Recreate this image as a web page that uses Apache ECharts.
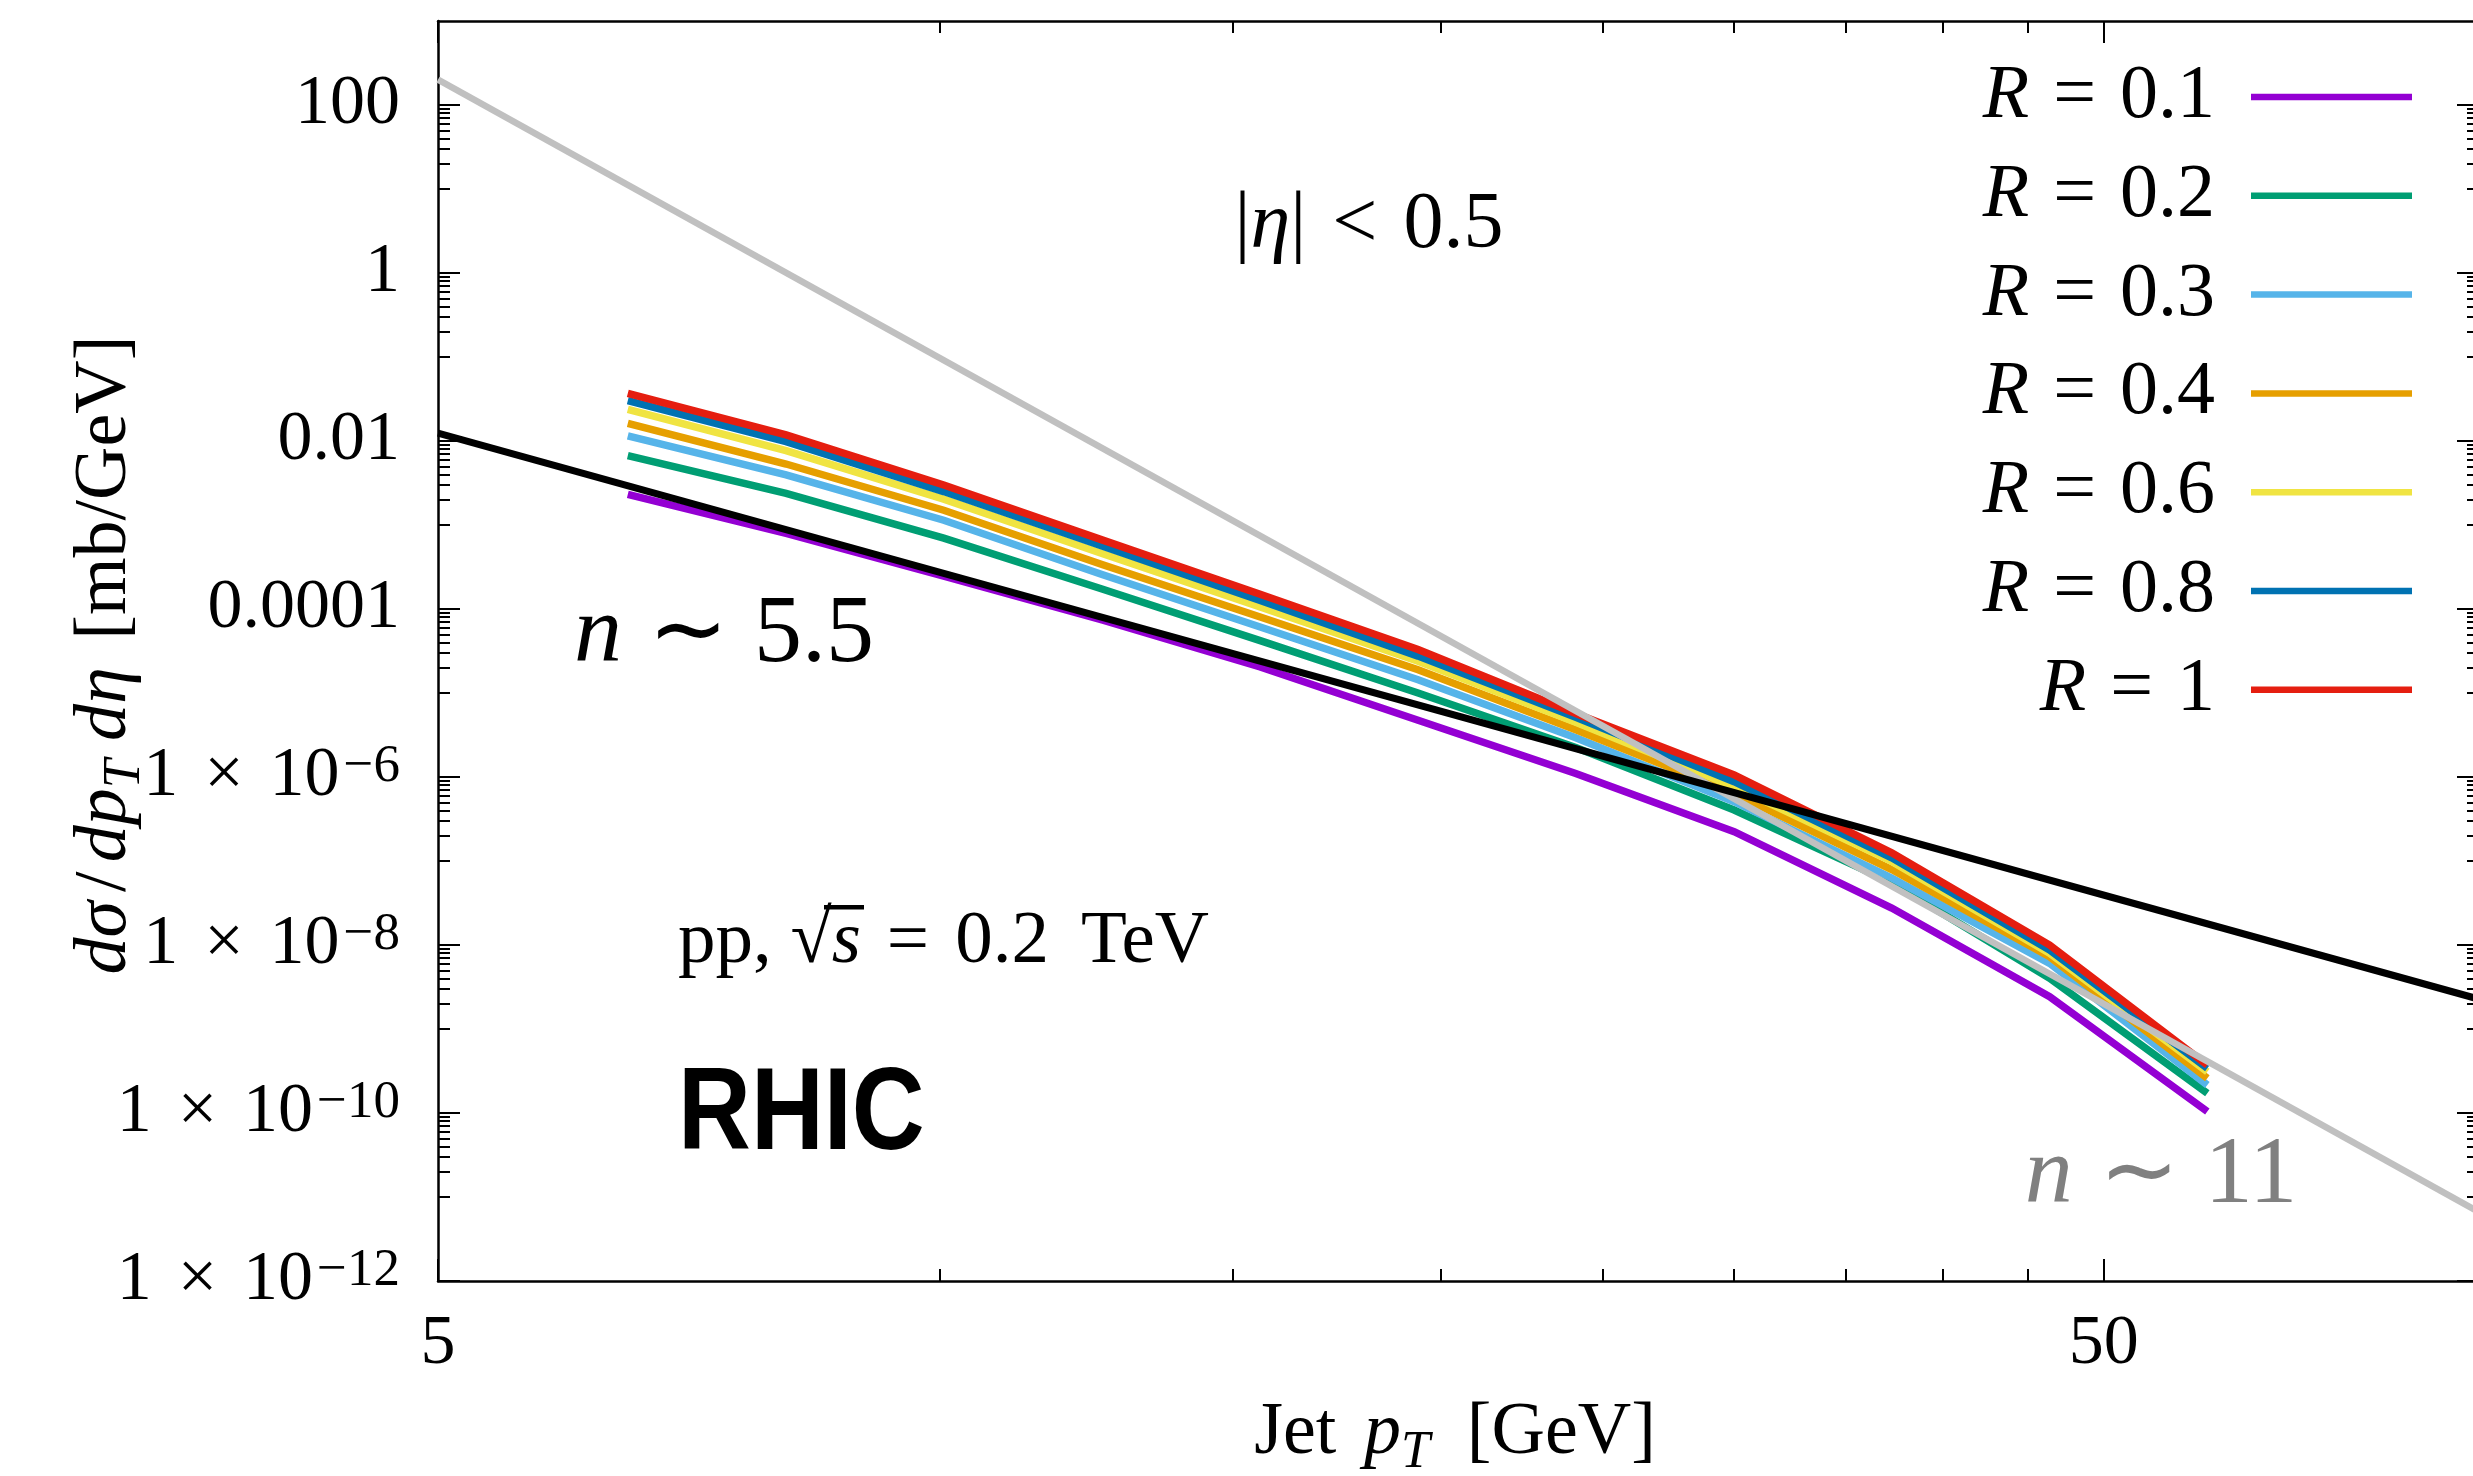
<!DOCTYPE html>
<html>
<head>
<meta charset="utf-8">
<title>Inclusive jet cross section at RHIC</title>
<script src="https://cdn.jsdelivr.net/npm/echarts@6/dist/echarts.min.js"></script>
<style>
  html, body { margin: 0; padding: 0; background: #ffffff; overflow: hidden; }
  #chart { width: 2473px; height: 1476px; }
</style>
</head>
<body>
<div id="chart"></div>
<script>
// Jet pT bin centres [GeV]
const ptBins = [6.5, 8.09, 10.06, 12.52, 15.58, 19.38, 24.1, 30.0, 37.3, 46.4, 57.7];

// d sigma / dpT d eta [mb/GeV] for each jet radius
const xsR01 = [2.32e-3, 7.94e-4, 2.47e-4, 7.40e-5, 2.04e-5, 4.73e-6, 1.10e-6, 2.23e-7, 2.75e-8, 2.43e-9, 1.04e-10];
const xsR02 = [6.68e-3, 2.38e-3, 6.97e-4, 1.73e-4, 4.20e-5, 1.00e-5, 2.24e-6, 4.05e-7, 5.52e-8, 4.02e-9, 1.72e-10];
const xsR03 = [1.15e-2, 3.94e-3, 1.14e-3, 2.57e-4, 6.11e-5, 1.44e-5, 2.93e-6, 5.08e-7, 6.28e-8, 6.05e-9, 2.15e-10];
const xsR04 = [1.62e-2, 5.32e-3, 1.50e-3, 3.38e-4, 8.04e-5, 1.89e-5, 3.66e-6, 6.40e-7, 7.91e-8, 7.26e-9, 2.59e-10];
const xsR06 = [2.38e-2, 7.67e-3, 2.03e-3, 4.58e-4, 1.06e-4, 2.39e-5, 4.49e-6, 7.67e-7, 9.89e-8, 7.96e-9, 3.10e-10];
const xsR08 = [3.02e-2, 9.82e-3, 2.50e-3, 5.62e-4, 1.26e-4, 2.75e-5, 5.15e-6, 8.79e-7, 1.09e-7, 8.71e-9, 3.40e-10];
const xsR10 = [3.70e-2, 1.18e-2, 2.99e-3, 6.65e-4, 1.50e-4, 3.30e-5, 5.71e-6, 1.06e-6, 1.25e-7, 1.00e-8, 3.72e-10];

const radiusNames = ['R = 0.1', 'R = 0.2', 'R = 0.3', 'R = 0.4', 'R = 0.6', 'R = 0.8', 'R = 1'];
const radiusValues = [xsR01, xsR02, xsR03, xsR04, xsR06, xsR08, xsR10];
const radiusColors = ['#9400d3', '#009e73', '#56b4e9', '#e69f00', '#f0e442', '#0072b2', '#e51e10'];

// Power-law guide lines (end points), pT^-5.5 and pT^-11
const guideN55 = [[5, 1.24e-2], [90, 1.55e-9]];
const guideN11 = [[5, 200], [90, 3.1e-12]];

// Axis ticks and labels
const xMajorTicks = [5, 50];
const xMinorTicks = [10, 15, 20, 25, 30, 35, 40, 45];
const yMajorTicks = [1e-12, 1e-10, 1e-8, 1e-6, 1e-4, 1e-2, 1, 100];
const yTickLabels = ['1 × 10^−12', '1 × 10^−10', '1 × 10^−8', '1 × 10^−6', '0.0001', '0.01', '1', '100'];
const yMinorExponents = [-11, -9, -7, -5, -3, -1, 1];

const yMinorTicks = [];
yMinorExponents.forEach(function (e) {
  for (let j = 1; j <= 9; j++) yMinorTicks.push(+(j * Math.pow(10, e)).toPrecision(3));
});

const SERIF = 'Liberation Serif';
const X_MIN = 5, X_MAX = 84, Y_MIN = 1e-12, Y_MAX = 1e3;

function yLabel(v) {
  const k = yMajorTicks.findIndex(function (t) { return Math.abs(Math.log10(t) - Math.log10(v)) < 1e-6; });
  if (k < 0) return '';
  const s = yTickLabels[k];
  if (s.indexOf('^') < 0) return '{m|' + s + '}';
  const pieces = s.split('^');
  const mant = pieces[0].split('×');
  return '{m|' + mant[0].trim() + '}{x|×}{m|' + mant[1].trim() + '}{s|' + pieces[1] + '}';
}

const tickLine = { color: '#000', width: 2 };

function xAxisDef(position, ticks, len, withLine, withLabels) {
  return {
    type: 'log', logBase: 10, min: X_MIN, max: X_MAX, position: position,
    axisLine: { show: withLine, onZero: false, lineStyle: { color: '#000', width: 2.5 } },
    axisTick: { show: true, inside: true, length: len, customValues: ticks, lineStyle: tickLine },
    axisLabel: withLabels ? {
      show: true, customValues: ticks, margin: 29, color: '#000',
      fontFamily: SERIF, fontSize: 70,
      formatter: function (v) { return String(Math.round(v)); }
    } : { show: false },
    splitLine: { show: false }, minorTick: { show: false }, axisPointer: { show: false }
  };
}

function yAxisDef(position, ticks, len, withLine, withLabels) {
  return {
    type: 'log', logBase: 10, min: Y_MIN, max: Y_MAX, position: position,
    axisLine: { show: withLine, onZero: false, lineStyle: { color: '#000', width: 2.5 } },
    axisTick: { show: true, inside: true, length: len, customValues: ticks, lineStyle: tickLine },
    axisLabel: withLabels ? {
      show: true, customValues: ticks, margin: 38, color: '#000',
      formatter: yLabel,
      rich: {
        m: { fontFamily: SERIF, fontSize: 70, lineHeight: 72, color: '#000' },
        x: { fontFamily: SERIF, fontSize: 70, lineHeight: 72, color: '#000', padding: [0, 26] },
        s: { fontFamily: SERIF, fontSize: 53, lineHeight: 18, verticalAlign: 'top', color: '#000', padding: [0, 0, 0, 4] }
      }
    } : { show: false },
    splitLine: { show: false }, minorTick: { show: false }, axisPointer: { show: false }
  };
}

const series = [];
radiusNames.forEach(function (name, i) {
  series.push({
    name: name, type: 'line',
    data: ptBins.map(function (pt, k) { return [pt, radiusValues[i][k]]; }),
    symbol: 'none', showSymbol: false, clip: true, silent: true,
    color: radiusColors[i],
    itemStyle: { color: radiusColors[i] },
    lineStyle: { color: radiusColors[i], width: 7.5, cap: 'butt', join: 'miter' }
  });
});
series.push({
  name: 'n11', type: 'line', data: guideN11, symbol: 'none', clip: true, silent: true,
  lineStyle: { color: '#c0c0c0', width: 6.5 }
});
series.push({
  name: 'n55', type: 'line', data: guideN55, symbol: 'none', clip: true, silent: true,
  lineStyle: { color: '#000000', width: 7 }
});

function mathRich(size, color, opPad) {
  const base = { fontFamily: SERIF, fontSize: size, lineHeight: 90, color: color, fill: color };
  return {
    r: Object.assign({}, base),
    i: Object.assign({}, base, { fontStyle: 'italic' }),
    e: Object.assign({}, base, { padding: [0, opPad] }),
    g: Object.assign({}, base, { padding: [0, Math.round(size * 0.12), 0, 0] }),
    gi: Object.assign({}, base, { fontStyle: 'italic', padding: [0, Math.round(size * 0.12), 0, 0] }),
    w: Object.assign({}, base, { padding: [0, Math.round(size * 0.42), 0, 0] }),
    sub: Object.assign({}, base, { fontSize: Math.round(size * 0.7), fontStyle: 'italic', lineHeight: 34, verticalAlign: 'bottom' })
  };
}

// Collision energy label position
const PP_X = 678, PP_Y = 942, PP_SIZE = 75;

const chart = echarts.init(document.getElementById('chart'), null, { renderer: 'canvas' });

chart.setOption({
  animation: false,
  backgroundColor: '#ffffff',
  grid: { left: 438, top: 21, right: -6, bottom: 195, containLabel: false, outerBoundsMode: 'none' },
  xAxis: [
    xAxisDef('bottom', xMajorTicks, 22, true, true),
    xAxisDef('bottom', xMinorTicks, 12, false, false),
    xAxisDef('top', xMajorTicks, 22, true, false),
    xAxisDef('top', xMinorTicks, 12, false, false)
  ],
  yAxis: [
    yAxisDef('left', yMajorTicks, 22, true, true),
    yAxisDef('left', yMinorTicks, 12, false, false),
    yAxisDef('right', yMajorTicks, 22, true, false),
    yAxisDef('right', yMinorTicks, 12, false, false)
  ],
  legend: {
    data: radiusNames,
    orient: 'vertical', align: 'right', right: 56, top: 54,
    icon: 'rect', itemWidth: 161, itemHeight: 6.5, itemGap: 22.8,
    selectedMode: false,
    formatter: function (name) {
      return '{i|R}{e|=}{n|' + name.split('=')[1].trim() + '}';
    },
    textStyle: {
      color: '#000', padding: [0, 31, 0, 0],
      rich: {
        i: { fontFamily: SERIF, fontSize: 76, fontStyle: 'italic', lineHeight: 70, color: '#000' },
        e: { fontFamily: SERIF, fontSize: 76, lineHeight: 70, padding: [0, 24], color: '#000' },
        n: { fontFamily: SERIF, fontSize: 76, lineHeight: 70, color: '#000' }
      }
    }
  },
  graphic: { elements: [
    { type: 'text', x: 106, y: 655, rotation: Math.PI / 2, silent: true,
      style: { text: '{gi|dσ}{g|/}{i|dp}{sub|T}{i| d}{gi|η}{r| [mb/GeV]}', rich: mathRich(74, '#000', 0),
               align: 'center', verticalAlign: 'middle', fill: '#000' } },
    { type: 'text', x: 1455, y: 1434, silent: true,
      style: { text: '{g|Jet}{i| p}{sub|T}{r|  [GeV]}', rich: mathRich(74, '#000', 0),
               align: 'center', verticalAlign: 'middle', fill: '#000' } },
    { type: 'text', x: 1369, y: 226, silent: true,
      style: { text: '{r||}{i|η}{r||}{e|<}{r|0.5}', rich: mathRich(80, '#000', 26),
               align: 'center', verticalAlign: 'middle', fill: '#000' } },
    { type: 'text', x: 724, y: 636, silent: true,
      style: { text: '{i|n}{e|∼}{r|5.5}', rich: mathRich(96, '#000', 26),
               align: 'center', verticalAlign: 'middle', fill: '#000' } },
    { type: 'text', x: 2161, y: 1177, silent: true,
      style: { text: '{i|n}{e|∼}{r|11}', rich: mathRich(96, '#808080', 26),
               align: 'center', verticalAlign: 'middle', fill: '#808080' } },
    { type: 'text', x: PP_X, y: PP_Y, silent: true,
      style: { text: '{r|pp, }{r|√}{i|s}{e|=}{w|0.2}{r|TeV}', rich: mathRich(PP_SIZE, '#000', 26),
               align: 'left', verticalAlign: 'middle', fill: '#000' } },
    { type: 'rect', silent: true, z: 100,
      shape: { x: 824, y: 905, width: 40, height: 4.5 },
      style: { fill: '#000' } },
    { type: 'text', x: 678, y: 1117, scaleX: 0.87, silent: true,
      style: { text: 'RHIC', font: 'bold 116px "Liberation Sans", Arial, sans-serif',
               align: 'left', verticalAlign: 'middle', fill: '#000' } }
  ] },
  series: series
});
</script>
</body>
</html>
